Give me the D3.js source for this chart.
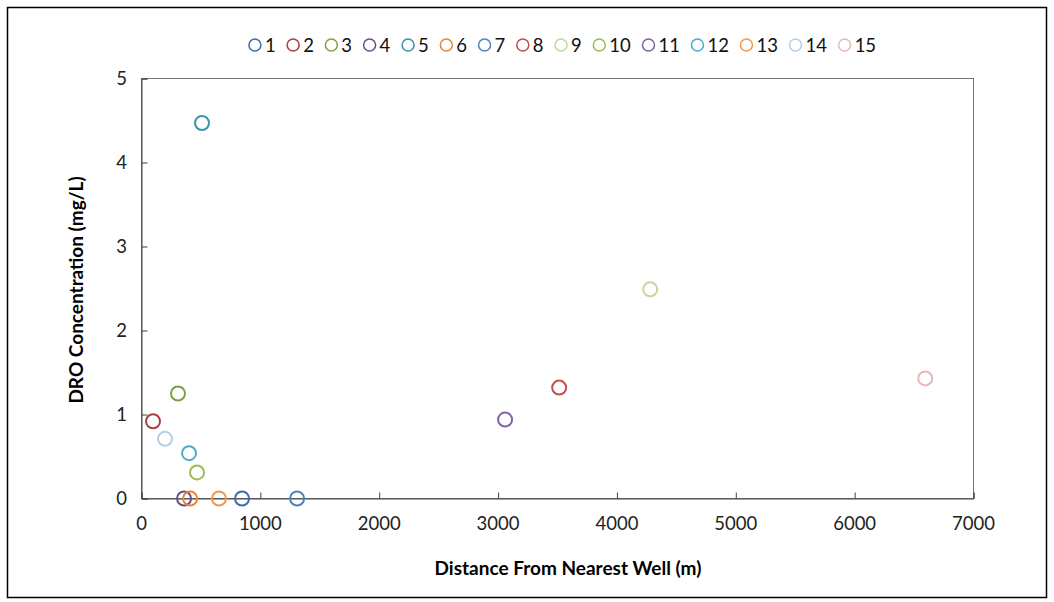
<!DOCTYPE html>
<html>
<head>
<meta charset="utf-8">
<script src="https://cdn.jsdelivr.net/npm/d3@7"></script>
<style>
  body { margin: 0; background: #fff; }
  svg text { font-family: Lato, "Open Sans", sans-serif; }
</style>
</head>
<body>
<svg id="chart" width="1054" height="602"></svg>
<script>
// series names, one point per series
var seriesNames = ["1", "2", "3", "4", "5", "6", "7", "8", "9", "10", "11", "12", "13", "14", "15"];
var distance = [846, 97, 307, 358, 509, 409, 1309, 3514, 4280, 467, 3059, 400, 652, 198, 6594];
var dro = [0, 0.92, 1.25, 0, 4.47, 0, 0, 1.32, 2.49, 0.31, 0.94, 0.54, 0, 0.71, 1.43];
var colors = ["#3E6DA8", "#A8403D", "#7F9F45", "#6A4E8C", "#3A94AB", "#E8843A",
              "#4F81BD", "#C0504D", "#C3D69B", "#9BBB59", "#8064A2", "#4BACC6",
              "#F79646", "#B9CDE5", "#E6B9B8"];
var xTicks = [0, 1000, 2000, 3000, 4000, 5000, 6000, 7000];
var yTicks = [0, 1, 2, 3, 4, 5];

var svg = d3.select("#chart");

// outer chart border
svg.append("rect")
    .attr("x", 7.5).attr("y", 7.5)
    .attr("width", 1039).attr("height", 590)
    .attr("fill", "none").attr("stroke", "#000").attr("stroke-width", 1.5);

var x = d3.scaleLinear().domain([0, 7000]).range([141.5, 973.5]);
var y = d3.scaleLinear().domain([0, 5]).range([498.5, 78.5]);

// plot area frame
svg.append("rect")
    .attr("x", x(0)).attr("y", y(5))
    .attr("width", x(7000) - x(0)).attr("height", y(0) - y(5))
    .attr("fill", "none").attr("stroke", "#777").attr("stroke-width", 1);

// axes, ticks inside
var xAxis = d3.axisTop(x).tickValues(xTicks).tickSize(6).tickFormat("");
svg.append("g").attr("transform", "translate(0," + y(0) + ")").call(xAxis)
    .call(function(g) { g.selectAll("line, path").attr("stroke", "#444"); });

var yAxis = d3.axisRight(y).tickValues(yTicks).tickSize(6).tickFormat("");
svg.append("g").attr("transform", "translate(" + x(0) + ",0)").call(yAxis)
    .call(function(g) { g.selectAll("line, path").attr("stroke", "#444"); });

// tick labels
svg.append("g").selectAll("text")
    .data(xTicks).enter().append("text")
    .attr("x", function(d) { return x(d); })
    .attr("y", 530)
    .attr("text-anchor", "middle")
    .attr("font-size", 18.5)
    .attr("fill", "#222")
    .text(function(d) { return d; });

svg.append("g").selectAll("text")
    .data(yTicks).enter().append("text")
    .attr("x", 127)
    .attr("y", function(d) { return y(d) + 6.5; })
    .attr("text-anchor", "end")
    .attr("font-size", 18.5)
    .attr("fill", "#222")
    .text(function(d) { return d; });

// axis titles
svg.append("text")
    .attr("x", 568).attr("y", 575)
    .attr("text-anchor", "middle")
    .attr("font-size", 19).attr("font-weight", "bold")
    .text("Distance From Nearest Well (m)");

svg.append("text")
    .attr("transform", "translate(83,290) rotate(-90)")
    .attr("text-anchor", "middle")
    .attr("font-size", 19).attr("font-weight", "bold")
    .text("DRO Concentration (mg/L)");

// points
svg.append("g").selectAll("circle")
    .data(seriesNames).enter().append("circle")
    .attr("cx", function(d, i) { return x(distance[i]); })
    .attr("cy", function(d, i) { return y(dro[i]); })
    .attr("r", 7)
    .attr("fill", "none")
    .attr("stroke", function(d, i) { return colors[i]; })
    .attr("stroke-width", 2);

// legend, centred over the plot
var legend = svg.append("g");
var items = legend.selectAll("g").data(seriesNames).enter().append("g");
items.append("circle")
    .attr("r", 6)
    .attr("fill", "none")
    .attr("stroke", function(d, i) { return colors[i]; })
    .attr("stroke-width", 1.5);
items.append("text")
    .attr("x", 10)
    .attr("y", 6.5)
    .attr("font-size", 18.5)
    .attr("fill", "#111")
    .text(function(d) { return d; });

var gap = 11.5;
var pos = 0;
items.each(function() {
    var w = this.getBBox().width;
    d3.select(this).attr("data-x", pos);
    pos += w + gap;
});
var total = pos - gap;
var start = (x(0) + x(7000)) / 2 - total / 2 + 11;
items.attr("transform", function() {
    return "translate(" + (start + +d3.select(this).attr("data-x")) + ",45)";
});
</script>
</body>
</html>
